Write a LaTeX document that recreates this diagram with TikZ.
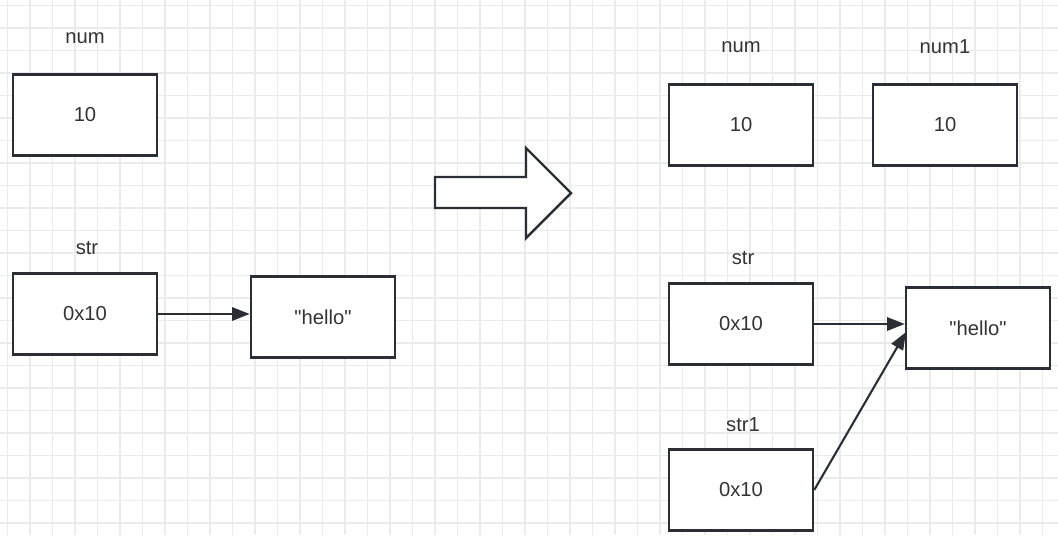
\documentclass[tikz,border=0pt]{standalone}
\usepackage{fontspec}
\setmainfont{Liberation Sans}[Ligatures=TeXOff]
\usetikzlibrary{arrows.meta}
\definecolor{trait}{HTML}{2B2F33}
\definecolor{texte}{HTML}{333333}
\definecolor{grille}{HTML}{EBEBEB}
\tikzset{
	case/.style={draw=trait, line width=1.4pt, fill=white, text=texte,
		minimum width=2.88cm, minimum height=1.62cm, inner sep=0pt, font=\fontsize{11.5}{13}\selectfont},
	nom/.style={text=texte, font=\fontsize{11.5}{13}\selectfont},
	fleche/.style={draw=trait, line width=1.2pt, -{Triangle[length=10pt,width=7.5pt]}}
}
\begin{document}
\begin{tikzpicture}[x=0.02cm, y=-0.02cm]
			\useasboundingbox (0,0) rectangle (1058,535);
			%Grille de fond
			\foreach \i in {0,...,46} \draw[grille, line width=0.6pt] (7.5+22.5*\i,0) -- (7.5+22.5*\i,535);
			\foreach \j in {0,...,23} \draw[grille, line width=0.6pt] (0,5.5+22.5*\j) -- (1058,5.5+22.5*\j);
			%Avant la copie
			\node[nom] (Lnum) at (85,38) {num};
			\node[case] (Bnum) at (85,115) {10};
			\node[nom] (Lstr) at (87,248) {str};
			\node[case] (Bstr) at (85,314) {0x10};
			\node[case] (Bhello) at (323,317) {"hello"};
			%Grosse fleche
			\draw[trait, line width=1.4pt, fill=white, line join=miter]
				(435,177) -- (526,177) -- (526,148) -- (571,193) -- (526,238) -- (526,208) -- (435,208) -- cycle;
			%Apres la copie
			\node[nom] (Rnum) at (741,47) {num};
			\node[case] (Cnum) at (741,125) {10};
			\node[nom] (Rnum1) at (945,47) {num1};
			\node[case] (Cnum1) at (945,125) {10};
			\node[nom] (Rstr) at (743,258) {str};
			\node[case] (Cstr) at (741,324) {0x10};
			\node[case] (Chello) at (978,328) {"hello"};
			\node[nom] (Rstr1) at (743,425) {str1};
			\node[case] (Cstr1) at (741,490) {0x10};
			\coordinate (Cpointe) at (906,332);
			%Pointeurs
			\draw[fleche] (Bstr.east) -- (Bstr.east -| Bhello.west);
			\draw[fleche] (Cstr.east) -- (Cstr.east -| Chello.west);
			\draw[fleche] (Cstr1.east) -- (Cpointe);
		\end{tikzpicture}
\end{document}
